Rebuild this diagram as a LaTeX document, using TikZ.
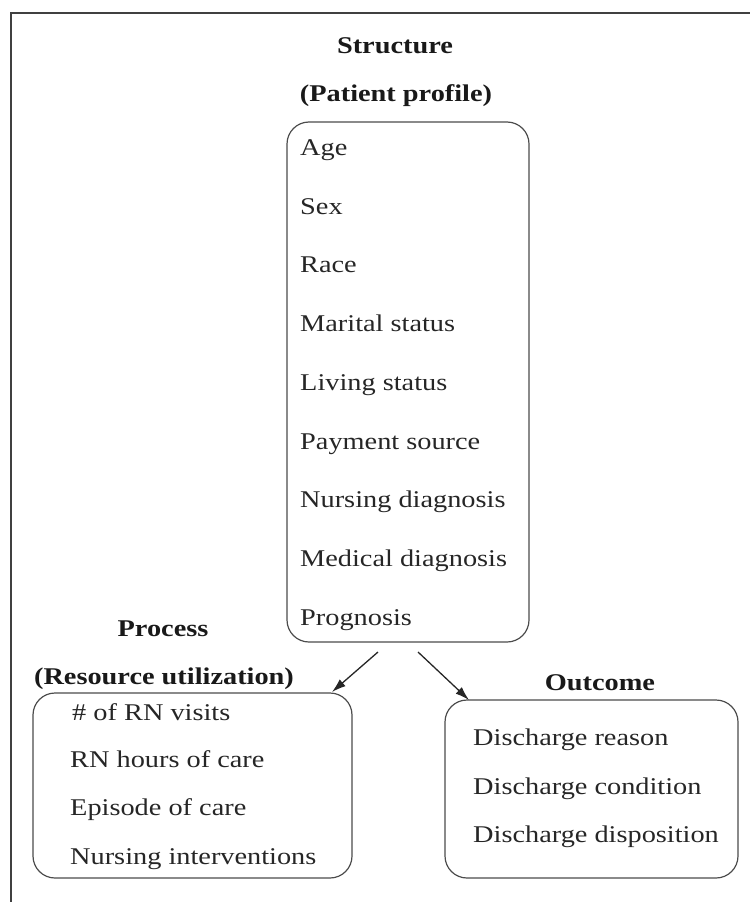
\documentclass[tikz,border=0pt]{standalone}
\usepackage{fontspec}
\setmainfont{Liberation Serif}[FakeStretch=1.18]
\usetikzlibrary{arrows.meta}

\tikzset{
  box/.style={draw=black!70, line width=1.2pt, rounded corners=22pt},
  item/.style={anchor=mid west, inner sep=0pt, text=black!85, font=\fontsize{24}{28}\selectfont},
  head/.style={inner sep=0pt, text=black!90, font=\fontsize{24}{28}\selectfont\bfseries},
  link/.style={draw=black!85, line width=1.3pt, -{Latex[length=14pt,width=9pt]}}
}

\begin{document}
\begin{tikzpicture}[x=1pt,y=-1pt]
    % Page size
    \useasboundingbox (0,0) rectangle (750,902);

    % Outer frame, cut off at the right and bottom
    \draw[black!75, line width=2.5pt] (11,902) -- (11,13) -- (750,13);

    % Structure (top box)
    \node[head] (structure) at (395,46) {Structure};
    \node[head] (profile) at (396,96) {(Patient profile)};
    \node[box, minimum width=242pt, minimum height=520pt] (structbox) at (408,382) {};
    \node[item] (age) at (300,153) {Age};
    \node[item] (sex) at (300,212) {Sex};
    \node[item] (race) at (300,270) {Race};
    \node[item] (marital) at (300,329) {Marital status};
    \node[item] (living) at (300,388) {Living status};
    \node[item] (payment) at (300,447) {Payment source};
    \node[item] (nursdiag) at (300,505) {Nursing diagnosis};
    \node[item] (meddiag) at (300,564) {Medical diagnosis};
    \node[item] (prognosis) at (300,623) {Prognosis};

    % Process (bottom left box)
    \node[head] (process) at (163,629) {Process};
    \node[head] (resource) at (164,679) {(Resource utilization)};
    \node[box, minimum width=319pt, minimum height=185pt] (procbox) at (192.5,785.5) {};
    \node[item] (visits) at (72,718) {\# of RN visits};
    \node[item] (hours) at (70,765) {RN hours of care};
    \node[item] (episode) at (70,813) {Episode of care};
    \node[item] (interv) at (70,862) {Nursing interventions};

    % Outcome (bottom right box)
    \node[head] (outcome) at (600,683) {Outcome};
    \node[box, minimum width=293pt, minimum height=178pt] (outbox) at (591.5,789) {};
    \node[item] (reason) at (473,743) {Discharge reason};
    \node[item] (condition) at (473,792) {Discharge condition};
    \node[item] (disposition) at (473,840) {Discharge disposition};

    % Arrows from structure to process and outcome
    \coordinate (procfrom) at (378,652);
    \coordinate (procto) at (332,692);
    \coordinate (outfrom) at (418,652);
    \coordinate (outto) at (469,700);
    \draw[link] (procfrom) -- (procto);
    \draw[link] (outfrom) -- (outto);
\end{tikzpicture}
\end{document}
